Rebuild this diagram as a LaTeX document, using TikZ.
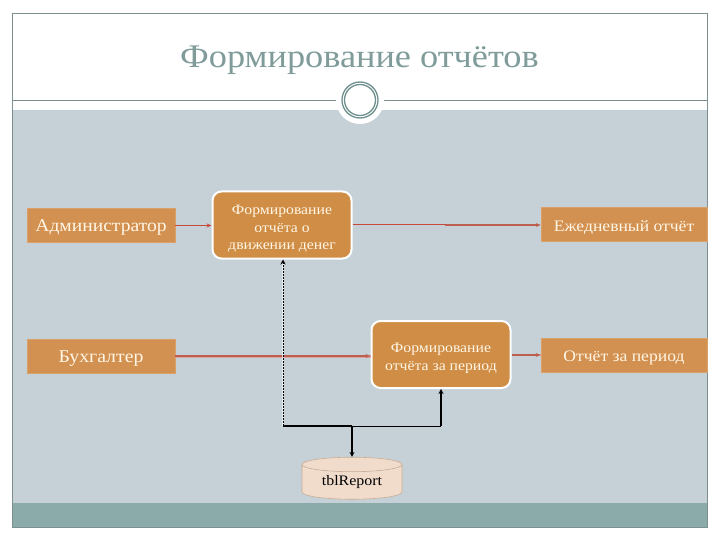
\documentclass[tikz,border=0pt]{standalone}
\usepackage{fontspec}
\setmainfont[FakeStretch=1.1]{Liberation Serif}
\usetikzlibrary{shapes.geometric,arrows.meta}
\definecolor{bandgray}{HTML}{C5D1D7}
\definecolor{bandteal}{HTML}{8AABA9}
\definecolor{frameline}{HTML}{7C908F}
\definecolor{titlecol}{HTML}{7F9C9A}
\definecolor{ringcol}{HTML}{6F918E}
\definecolor{boxfill}{HTML}{D29150}
\definecolor{boxedge}{HTML}{D9A06A}
\definecolor{roundfill}{HTML}{CF8D45}
\definecolor{arrowred}{HTML}{BC5F4F}
\definecolor{arrowthin}{HTML}{C8483C}
\definecolor{arrowpale}{HTML}{DDA3A0}
\definecolor{dbfill}{HTML}{F1DCCC}
\definecolor{dbedge}{HTML}{C9AC94}
\definecolor{textcream}{HTML}{FFF6E6}
\newcommand{\toppad}{\rule{0pt}{17pt}}
\tikzset{
  actorbox/.style={rectangle,draw=boxedge,line width=0.6pt,fill=boxfill,text=textcream,minimum height=34pt,inner sep=0pt,text height=13pt,text depth=0pt,font=\fontsize{17.8}{20}\selectfont},
  procbox/.style={rectangle,rounded corners=9pt,draw=white,line width=2pt,fill=roundfill,text=textcream,minimum width=139pt,minimum height=67pt,inner sep=0pt,align=center,font=\fontsize{14.3}{17.5}\selectfont},
  flowthin/.style={draw=arrowthin,line width=1pt},
  flowthick/.style={draw=arrowred,line width=1.5pt},
  flowpale/.style={draw=arrowpale,line width=3pt},
  tipred/.style={-{Stealth[length=5pt,width=4pt]}},
  datalink/.style={draw=black,line width=1.8pt},
  datathin/.style={draw=black,line width=1pt},
  tipblack/.style={-{Stealth[length=5pt,width=5pt]}}
}
\begin{document}
\begin{tikzpicture}[x=1pt,y=-1pt]
\useasboundingbox (0,0) rectangle (720,540);
\fill[white] (0,0) rectangle (720,540);
% bands
\fill[bandgray] (12,110) rectangle (707,503);
\fill[bandteal] (12,503) rectangle (707,527.5);
% frame
\draw[frameline,line width=0.8pt] (12,13) rectangle (707,527.5);
\draw[frameline,line width=0.8pt] (12,100) -- (707,100);
% emblem
\fill[white] (360,100) circle (24);
\draw[draw=ringcol,line width=1.3pt] (360,100) circle (18);
\draw[draw=ringcol,line width=1.3pt] (360,100) circle (15.5);
\node[text=titlecol,font=\fontsize{33}{36}\selectfont] (title) at (359.5,60) {Формирование отчётов};
% nodes
\node[actorbox,minimum width=148pt] (admin) at (101,225.5) {Администратор};
\node[actorbox,minimum width=148pt,font=\fontsize{18}{20}\selectfont] (buh) at (101,356) {Бухгалтер};
\node[procbox] (moneyrep) at (282,225) {\toppad Формирование\\отчёта о\\движении денег};
\node[procbox] (periodrep) at (441,354.5) {\toppad Формирование\\отчёта за период};
\node[actorbox,minimum width=166pt,font=\fontsize{16}{18}\selectfont] (daily) at (624,224.5) {Ежедневный отчёт};
\node[actorbox,minimum width=166pt,font=\fontsize{16}{18}\selectfont] (periodout) at (624,355) {Отчёт за период};
\node[cylinder,shape border rotate=90,aspect=0.24,draw=dbedge,line width=0.6pt,fill=dbfill,cylinder uses custom fill,cylinder body fill=dbfill,cylinder end fill=dbfill,minimum width=100pt,minimum height=42pt,inner sep=0pt,text=black,font=\fontsize{14.5}{16}\selectfont] (db) at (352,478) [yshift=-4pt] {tblReport};
% junctions
\coordinate (split) at (445,225);
\coordinate (jleft) at (283,426);
\coordinate (jmid) at (352,426);
\coordinate (jright) at (441,426);
% red connectors
\draw[flowthin,tipred] (admin.east) -- (admin.east -| moneyrep.west);
\draw[flowthin] (moneyrep.east) -- (split);
\draw[flowthick,tipred] (split) -- (split -| daily.west);
\draw[flowpale] (buh.east) -- (buh.east -| periodrep.west);
\draw[flowthick,tipred] (buh.east) -- (buh.east -| periodrep.west);
\draw[flowpale,line width=2.5pt] (periodrep.east |- periodout.west) -- (periodout.west);
\draw[flowthick,tipred] (periodrep.east |- periodout.west) -- (periodout.west);
% black connectors
\draw[draw=white,line width=2.5pt,opacity=0.6] (jleft) -- (moneyrep.south -| jleft);
\draw[draw=black,line width=1pt,dash pattern=on 2pt off 1pt,tipblack] (jleft) -- (moneyrep.south -| jleft);
\draw[datalink] (jleft) -- (jmid);
\draw[datathin] (jmid) -- (jright);
\draw[datalink,tipblack] (jmid) -- (db.top);
\draw[datalink,tipblack] (jright) -- (periodrep.south);
\end{tikzpicture}
\end{document}
